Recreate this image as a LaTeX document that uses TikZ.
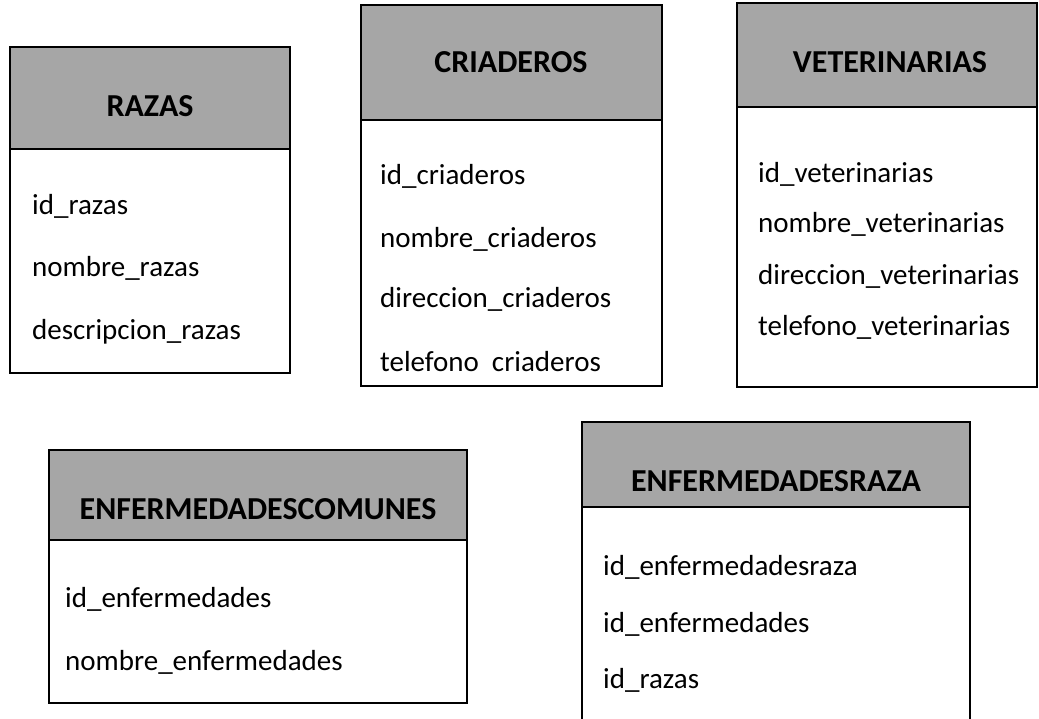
\documentclass[tikz,border=0pt]{standalone}
\usepackage{fontspec}
\setmainfont{Carlito}
\usetikzlibrary{positioning}
\definecolor{headgray}{HTML}{A6A6A6}

\begin{document}
\begin{tikzpicture}[x=1pt, y=-1pt]
		\tikzstyle{head}=[rectangle, draw, line width=2.2pt, fill=headgray, anchor=north west, inner sep=0pt, outer sep=0pt]
		\tikzstyle{body}=[rectangle, draw, line width=2.2pt, fill=white, inner sep=0pt, outer sep=0pt]
		\tikzstyle{title}=[font=\fontsize{32}{38}\selectfont\bfseries, inner sep=0pt]
		\tikzstyle{field}=[font=\fontsize{29}{35}\selectfont, anchor=base west, inner sep=0pt]

		\useasboundingbox (0,0) rectangle (1039,719);
		\clip (0,0) rectangle (1039,719);

		% razas
		\node[head, minimum width=280pt, minimum height=102pt] (razasHead) at (10,47) {};
		\node[body, minimum width=280pt, minimum height=224pt, below=0pt of razasHead] (razasBody) {};
		\node[title] (razasTitle) at (150,106) {RAZAS};
		\node[field] (idRazas) at (32,215) {id\_razas};
		\node[field] (nombreRazas) at (32,277) {nombre\_razas};
		\node[field] (descRazas) at (32,340) {descripcion\_razas};

		% criaderos
		\node[head, minimum width=301pt, minimum height=115pt] (criaHead) at (361,5) {};
		\node[body, minimum width=301pt, minimum height=266pt, below=0pt of criaHead] (criaBody) {};
		\node[title] (criaTitle) at (511,62) {CRIADEROS};
		\node[field] (idCria) at (380,185) {id\_criaderos};
		\node[field] (nombreCria) at (380,248) {nombre\_criaderos};
		\node[field] (dirCria) at (380,308) {direccion\_criaderos};
		\node[field] (telCria) at (380,371) {telefono\ \ criaderos};

		% veterinarias
		\node[head, minimum width=300pt, minimum height=104pt] (vetHead) at (737,3) {};
		\node[body, minimum width=300pt, minimum height=280pt, below=0pt of vetHead] (vetBody) {};
		\node[title] (vetTitle) at (890,62) {VETERINARIAS};
		\node[field] (idVet) at (758,183) {id\_veterinarias};
		\node[field] (nombreVet) at (758,233) {nombre\_veterinarias};
		\node[field] (dirVet) at (758,285) {direccion\_veterinarias};
		\node[field] (telVet) at (758,335) {telefono\_veterinarias};

		% enfermedades comunes
		\node[head, minimum width=418pt, minimum height=90pt] (enfHead) at (49,450) {};
		\node[body, minimum width=418pt, minimum height=163pt, below=0pt of enfHead] (enfBody) {};
		\node[title] (enfTitle) at (258,509) {ENFERMEDADESCOMUNES};
		\node[field] (idEnf) at (65,607) {id\_enfermedades};
		\node[field] (nombreEnf) at (65,670) {nombre\_enfermedades};

		% enfermedades por raza
		\node[head, minimum width=388pt, minimum height=85pt] (erHead) at (582,422) {};
		\node[body, minimum width=388pt, minimum height=240pt, below=0pt of erHead] (erBody) {};
		\node[title] (erTitle) at (776,481) {ENFERMEDADESRAZA};
		\node[field] (idEr) at (603,575) {id\_enfermedadesraza};
		\node[field] (idEnfEr) at (603,632) {id\_enfermedades};
		\node[field] (idRazasEr) at (603,688) {id\_razas};

	\end{tikzpicture}
\end{document}
